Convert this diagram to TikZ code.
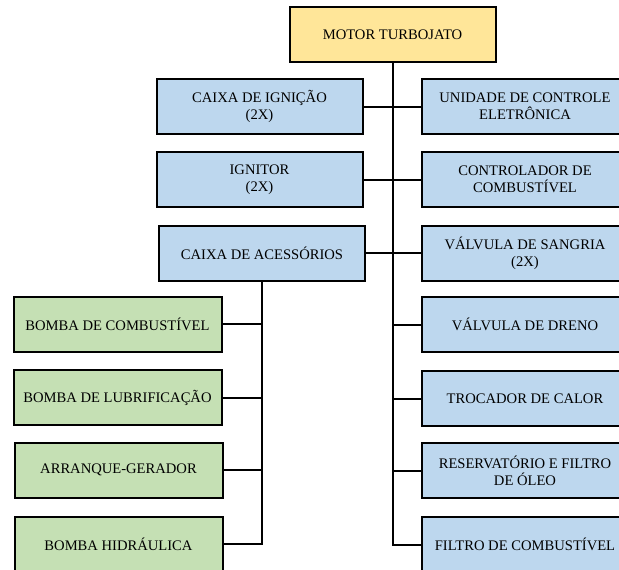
\documentclass[tikz,border=0pt]{standalone}
\usepackage{fontspec}
\setmainfont{Liberation Serif}
\definecolor{goldfill}{HTML}{FFE699}
\definecolor{bluefill}{HTML}{BDD7EE}
\definecolor{greenfill}{HTML}{C5E0B4}
\tikzset{
  box/.style={draw=black, line width=2pt, minimum width=206pt, minimum height=55pt,
    inner sep=2pt, align=center, font=\fontsize{14.6}{17}\selectfont},
  topbox/.style={box, fill=goldfill},
  bluebox/.style={box, fill=bluefill},
  greenbox/.style={box, fill=greenfill, minimum width=208pt},
  link/.style={draw=black, line width=2pt}
}
\begin{document}
\begin{tikzpicture}[x=1pt, y=-1pt]
  \useasboundingbox (0,0) rectangle (619,570);
  \clip (0,0) rectangle (619,570);
  \fill[white] (0,0) rectangle (619,570);

  % root
  \node[topbox] (motor) at (392.5,34.5) {MOTOR TURBOJATO};

  % left column
  \node[bluebox] (ign)  at (259.5,106.5) {CAIXA DE IGNIÇÃO\\(2X)};
  \node[bluebox] (igt)  at (259.5,179.5) {IGNITOR\\(2X)};
  \node[bluebox] (acc)  at (262,253) {CAIXA DE ACESSÓRIOS};

  % accessories
  \node[greenbox] (bcomb) at (117.5,324)   {BOMBA DE COMBUSTÍVEL};
  \node[greenbox] (blub)  at (117.5,397.5) {BOMBA DE LUBRIFICAÇÃO};
  \node[greenbox] (arr)   at (118.5,470)   {ARRANQUE-GERADOR};
  \node[greenbox] (bhid)  at (118.5,544)   {BOMBA HIDRÁULICA};

  % right column
  \node[bluebox] (uce)   at (525,106.5) {UNIDADE DE CONTROLE\\ELETRÔNICA};
  \node[bluebox] (ctrl)  at (525,179.5) {CONTROLADOR DE\\COMBUSTÍVEL};
  \node[bluebox] (vsang) at (525,253)   {VÁLVULA DE SANGRIA\\(2X)};
  \node[bluebox] (vdren) at (525,324.5) {VÁLVULA DE DRENO};
  \node[bluebox] (troc)  at (525,398.5) {TROCADOR DE CALOR};
  \node[bluebox] (res)   at (525,470.5) {RESERVATÓRIO E FILTRO\\DE ÓLEO};
  \node[bluebox] (filt)  at (525,544.5) {FILTRO DE COMBUSTÍVEL};

  % main trunk
  \draw[link] (motor.south) -- (motor.south |- filt.west) -- (filt.west);
  \foreach \n in {ign, igt, acc}
    \draw[link] (\n.east) -- (\n.east -| motor.south);
  \foreach \n in {uce, ctrl, vsang, vdren, troc, res}
    \draw[link] (\n.west) -- (\n.west -| motor.south);

  % accessory branch
  \draw[link] (acc.south) -- (acc.south |- bhid.east) -- (bhid.east);
  \foreach \n in {bcomb, blub, arr}
    \draw[link] (\n.east) -- (\n.east -| acc.south);
\end{tikzpicture}
\end{document}
